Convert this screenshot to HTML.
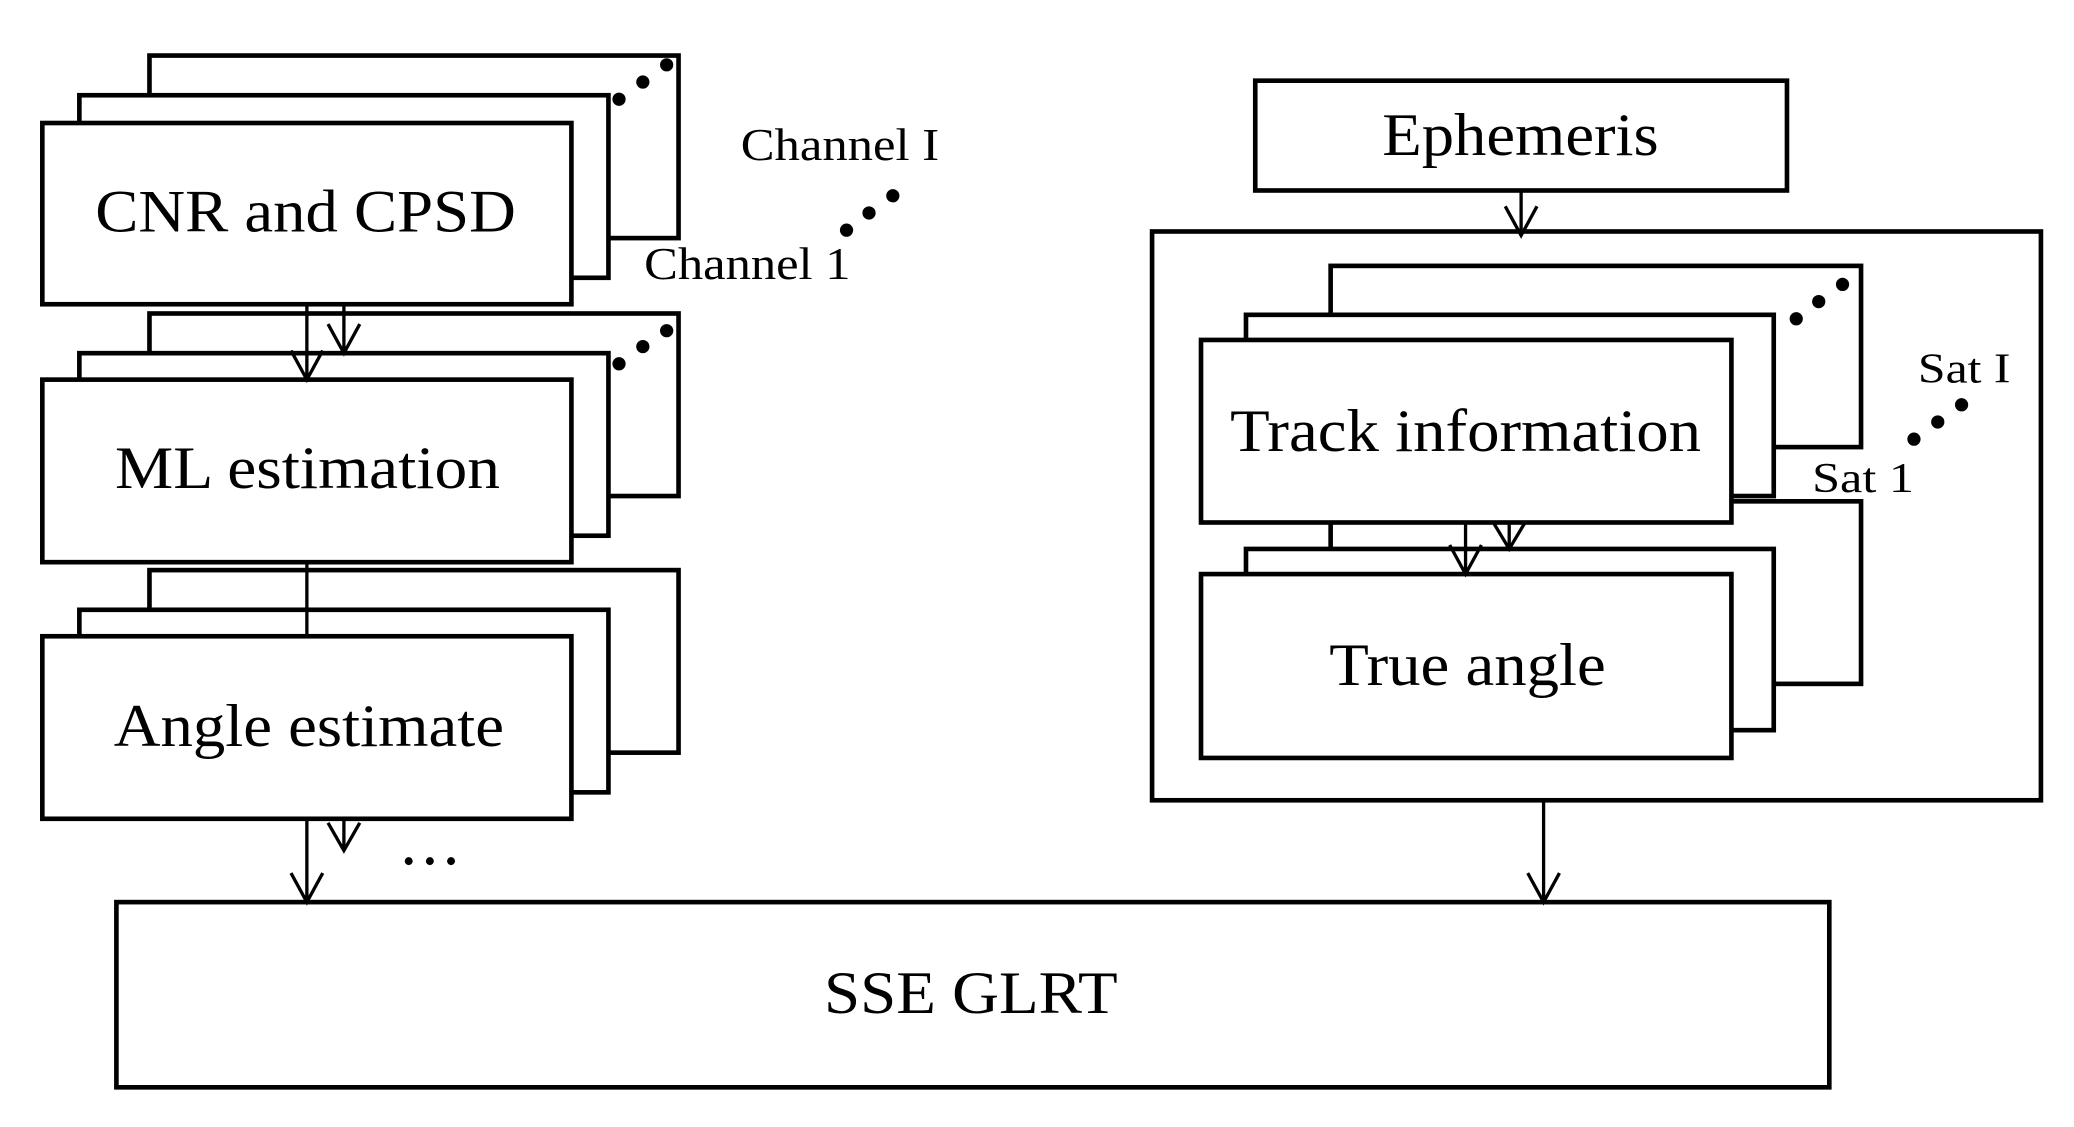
<!DOCTYPE html>
<html><head><meta charset="utf-8"><style>html,body{margin:0;padding:0;background:#fff}svg{display:block}</style></head>
<body>
<svg width="2074" height="1127" viewBox="0 0 1568 852" preserveAspectRatio="none" xmlns="http://www.w3.org/2000/svg">
<g fill="#fff" stroke="#000" stroke-width="3.5">
<rect x="88" y="682" width="1295" height="140"/>
<rect x="113" y="431" width="400" height="138"/>
<rect x="60" y="461" width="400" height="138"/>
<rect x="32" y="481" width="400" height="138"/>
<rect x="113" y="237" width="400" height="138"/>
<rect x="60" y="267" width="400" height="138"/>
<rect x="32" y="287" width="400" height="138"/>
<rect x="113" y="42" width="400" height="138"/>
<rect x="60" y="72" width="400" height="138"/>
<rect x="32" y="93" width="400" height="137"/>
<rect x="949" y="61" width="402" height="83"/>
<rect x="871" y="175" width="672" height="430"/>
<rect x="1006" y="379" width="401" height="138"/>
<rect x="942" y="415" width="399" height="137"/>
<rect x="908" y="434" width="401" height="139"/>
<rect x="1006" y="201" width="401" height="137"/>
<rect x="942" y="238" width="399" height="137"/>
<rect x="908" y="257" width="401" height="138"/>
</g>
<g fill="none" stroke="#000" stroke-width="2.5">
<path d="M232 230V287M220 265L232 287L244 265"/>
<path d="M260 230V267M248 245L260 267L272 245"/>
<path d="M232 425V481"/>
<path d="M232 619V682M220 660L232 682L244 660"/>
<path d="M260 619V643M248 622L260 643L272 622"/>
<path d="M1150 144V178M1138 156L1150 178L1162 156"/>
<path d="M1167 605V682M1155 660L1167 682L1179 660"/>
<path d="M1108 395V434M1096 412L1108 434L1120 412"/>
<path d="M1141 395V415M1129 395L1141 415L1153 395"/>
</g>
<g fill="#000">
<circle cx="468" cy="75" r="5"/><circle cx="486" cy="62" r="5"/><circle cx="504" cy="49" r="5"/>
<circle cx="468" cy="275" r="5"/><circle cx="486" cy="262" r="5"/><circle cx="504" cy="250" r="5"/>
<circle cx="640" cy="174" r="5"/><circle cx="657" cy="161" r="5"/><circle cx="675" cy="148" r="5"/>
<circle cx="1358" cy="241" r="5"/><circle cx="1375" cy="228" r="5"/><circle cx="1393" cy="215" r="5"/>
<circle cx="1447" cy="332" r="5"/><circle cx="1465" cy="319" r="5"/><circle cx="1483" cy="306" r="5"/>
<circle cx="309" cy="651" r="3"/><circle cx="325" cy="651" r="3"/><circle cx="341" cy="651" r="3"/>
</g>
<g font-family="'Liberation Serif', serif" fill="#000">
<text x="72" y="175" font-size="46" textLength="318" lengthAdjust="spacingAndGlyphs">CNR and CPSD</text>
<text x="87" y="369" font-size="46" textLength="291" lengthAdjust="spacingAndGlyphs">ML estimation</text>
<text x="86" y="564" font-size="46" textLength="295" lengthAdjust="spacingAndGlyphs">Angle estimate</text>
<text x="623" y="766" font-size="46" textLength="222" lengthAdjust="spacingAndGlyphs">SSE GLRT</text>
<text x="1045" y="117" font-size="46" textLength="209" lengthAdjust="spacingAndGlyphs">Ephemeris</text>
<text x="930" y="341" font-size="46" textLength="356" lengthAdjust="spacingAndGlyphs">Track information</text>
<text x="1005" y="518" font-size="46" textLength="209" lengthAdjust="spacingAndGlyphs">True angle</text>
<text x="560" y="121" font-size="34" textLength="150" lengthAdjust="spacingAndGlyphs">Channel I</text>
<text x="487" y="211" font-size="34" textLength="156" lengthAdjust="spacingAndGlyphs">Channel 1</text>
<text x="1450" y="289" font-size="32" textLength="70" lengthAdjust="spacingAndGlyphs">Sat I</text>
<text x="1370" y="372" font-size="32" textLength="77" lengthAdjust="spacingAndGlyphs">Sat 1</text>
</g>
</svg>
</body></html>
